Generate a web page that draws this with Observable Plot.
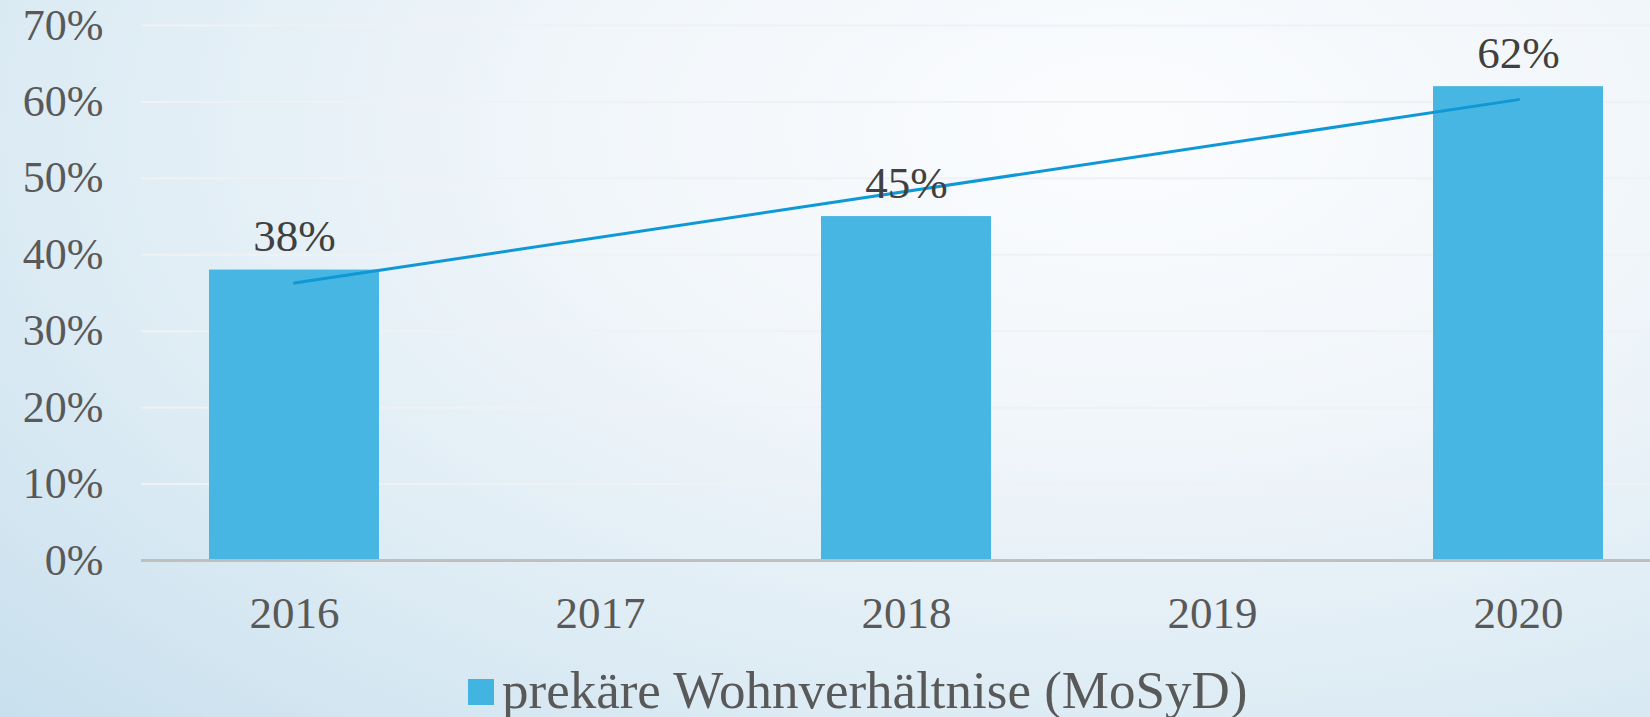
<!DOCTYPE html>
<html>
<head>
<meta charset="utf-8">
<script src="https://cdn.jsdelivr.net/npm/d3@7"></script>
<script src="https://cdn.jsdelivr.net/npm/@observablehq/plot@0.6"></script>
<style>
  html, body { margin: 0; padding: 0; }
  body {
    width: 1650px; height: 717px; overflow: hidden; position: relative;
    background: radial-gradient(ellipse 95% 120% at 68% 18%, #fbfcfe 0%, #f1f6fa 35%, #dcebf4 70%, #c7dfed 100%);
    font-family: "Liberation Serif", serif;
  }
  #chart { position: absolute; left: 0; top: 0; }
  #legend {
    position: absolute; top: 660px; left: 468px;
    display: flex; align-items: center; gap: 8px;
    font-size: 53px; color: #595959; white-space: nowrap;
  }
  #legend .sw { width: 26px; height: 26px; background: #42b4e1; margin-top: 4px; }
</style>
</head>
<body>
<div id="chart"></div>
<div id="legend"><span class="sw"></span><span id="legtext"></span></div>
<script>
const years = ["2016", "2017", "2018", "2019", "2020"];
const barYears = ["2016", "2018", "2020"];
const barValues = [38, 45, 62];
const trendYears = ["2016", "2020"];
const trendValues = [36.3, 60.3];
const yTicks = [0, 10, 20, 30, 40, 50, 60, 70];
const seriesName = "prekäre Wohnverhältnise (MoSyD)";

const bars = barYears.map((y, i) => ({year: y, value: barValues[i]}));
const trend = trendYears.map((y, i) => ({year: y, value: trendValues[i]}));

const plot = Plot.plot({
  width: 1650,
  height: 660,
  marginLeft: 141,
  marginRight: 0,
  marginTop: 25,
  marginBottom: 100,
  style: {background: "transparent", fontFamily: "'Liberation Serif', serif", fontSize: "44px", color: "#595959"},
  x: {type: "band", domain: years, range: [141, 1671], paddingInner: 0.444, paddingOuter: 0.222, label: null},
  y: {domain: [0, 70], label: null},
  marks: [
    Plot.gridY(yTicks, {stroke: "#eef2f5", strokeOpacity: 1, strokeWidth: 2}),
    Plot.barY(bars, {x: "year", y: "value", fill: "#42b4e1", fillOpacity: 0.97}),
    Plot.ruleY([0], {stroke: "#bfbfbf", strokeWidth: 3}),
    Plot.line(trend, {x: "year", y: "value", stroke: "#0e98d6", strokeWidth: 3}),
    Plot.text(bars, {x: "year", y: "value", text: d => d.value + "%", dy: -33, fill: "#404040", fontSize: 45}),
    Plot.axisY(yTicks, {tickSize: 0, tickPadding: 38, tickFormat: d => d + "%", fontSize: 44, fill: "#595959"}),
    Plot.axisX(years, {tickSize: 0, tickPadding: 36, fontSize: 45, fill: "#595959"})
  ]
});
document.getElementById("chart").appendChild(plot);
document.getElementById("legtext").textContent = seriesName;
</script>
</body>
</html>
